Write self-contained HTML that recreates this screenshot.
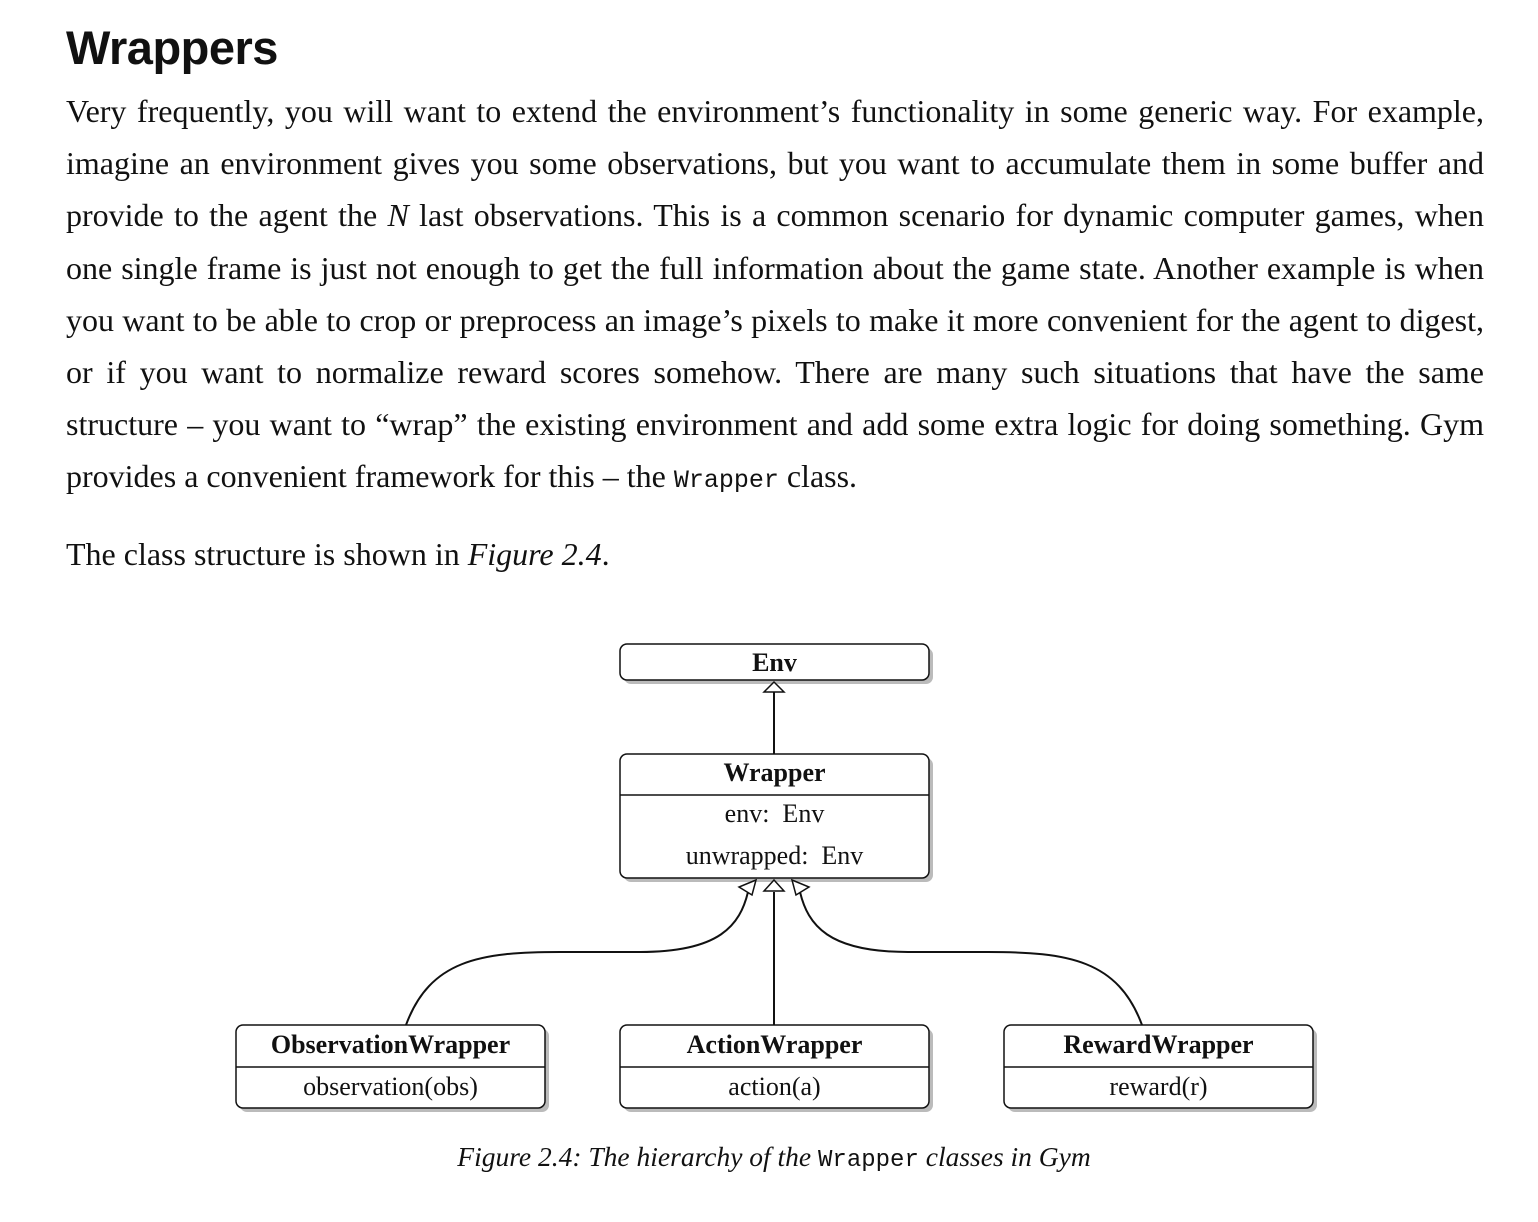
<!DOCTYPE html>
<html><head><meta charset="utf-8"><style>
body{margin:0;width:1538px;height:1222px;background:#fff;position:relative;overflow:hidden;font-family:"Liberation Serif",serif;color:#111}
h1{position:absolute;left:66px;top:20px;margin:0;font-family:"Liberation Sans",sans-serif;font-weight:bold;font-size:47px;letter-spacing:-0.5px}
.l{position:absolute;left:66px;width:1418px;font-size:32px;text-align:justify;text-align-last:justify;white-space:nowrap;line-height:34px}
.l.n{text-align-last:left}
code{font-family:"Liberation Mono",monospace;font-size:25px}
.t{position:absolute;font-size:26px;text-align:center;width:309px}
b{font-weight:bold}
</style></head><body>
<h1>Wrappers</h1>
<div class="l" style="top:94px">Very frequently, you will want to extend the environment’s functionality in some generic way. For example,</div>
<div class="l" style="top:146px">imagine an environment gives you some observations, but you want to accumulate them in some buffer and</div>
<div class="l" style="top:198px">provide to the agent the <i>N</i> last observations. This is a common scenario for dynamic computer games, when</div>
<div class="l" style="top:251px">one single frame is just not enough to get the full information about the game state. Another example is when</div>
<div class="l" style="top:303px">you want to be able to crop or preprocess an image’s pixels to make it more convenient for the agent to digest,</div>
<div class="l" style="top:355px">or if you want to normalize reward scores somehow. There are many such situations that have the same</div>
<div class="l" style="top:407px">structure – you want to “wrap” the existing environment and add some extra logic for doing something. Gym</div>
<div class="l n" style="top:459px">provides a convenient framework for this – the <code>Wrapper</code> class.</div>
<div class="l n" style="top:537px">The class structure is shown in <i>Figure 2.4</i>.</div>
<svg width="1538" height="1222" style="position:absolute;left:0;top:0" fill="none">
<g fill="#bbb">
<rect x="624" y="648" width="309" height="36" rx="7"/>
<rect x="624" y="758" width="309" height="124" rx="7"/>
<rect x="240" y="1029" width="309" height="83" rx="7"/>
<rect x="624" y="1029" width="309" height="83" rx="7"/>
<rect x="1008" y="1029" width="309" height="83" rx="7"/>
</g>
<g fill="#fff" stroke="#111" stroke-width="1.5">
<rect x="620" y="644" width="309" height="36" rx="7"/>
<rect x="620" y="754" width="309" height="124" rx="7"/>
<rect x="236" y="1025" width="309" height="83" rx="7"/>
<rect x="620" y="1025" width="309" height="83" rx="7"/>
<rect x="1004" y="1025" width="309" height="83" rx="7"/>
</g>
<g stroke="#111" stroke-width="1.5">
<line x1="620" y1="795" x2="929" y2="795"/>
<line x1="236" y1="1067" x2="545" y2="1067"/>
<line x1="620" y1="1067" x2="929" y2="1067"/>
<line x1="1004" y1="1067" x2="1313" y2="1067"/>
<line x1="774" y1="692" x2="774" y2="754" stroke-width="2"/>
<line x1="774" y1="892" x2="774" y2="1025" stroke-width="2"/>
<path d="M406 1025 C430 960 480 952 560 952 L640 952 C720 952 740 925 748 892" stroke-width="2"/>
<path d="M1142 1025 C1118 960 1068 952 988 952 L908 952 C828 952 808 925 800 892" stroke-width="2"/>
<polygon points="774,682 764,692 784,692" fill="#fff"/>
<polygon points="774,880 764,891 784,891" fill="#fff"/>
<polygon points="756,880 739,887 752,895" fill="#fff"/>
<polygon points="792,880 809,887 796,895" fill="#fff"/>
</g>
</svg>
<div class="t" style="left:620px;top:648px"><b>Env</b></div>
<div class="t" style="left:620px;top:758px"><b>Wrapper</b></div>
<div class="t" style="left:620px;top:799px">env:&nbsp; Env</div>
<div class="t" style="left:620px;top:841px">unwrapped:&nbsp; Env</div>
<div class="t" style="left:236px;top:1030px"><b>ObservationWrapper</b></div>
<div class="t" style="left:236px;top:1072px">observation(obs)</div>
<div class="t" style="left:620px;top:1030px"><b>ActionWrapper</b></div>
<div class="t" style="left:620px;top:1072px">action(a)</div>
<div class="t" style="left:1004px;top:1030px"><b>RewardWrapper</b></div>
<div class="t" style="left:1004px;top:1072px">reward(r)</div>
<div style="position:absolute;left:0;width:1548px;top:1141px;text-align:center;font-size:27.5px;font-style:italic">Figure 2.4: The hierarchy of the <code style="font-style:normal;font-size:24px">Wrapper</code> classes in Gym</div>
</body></html>
